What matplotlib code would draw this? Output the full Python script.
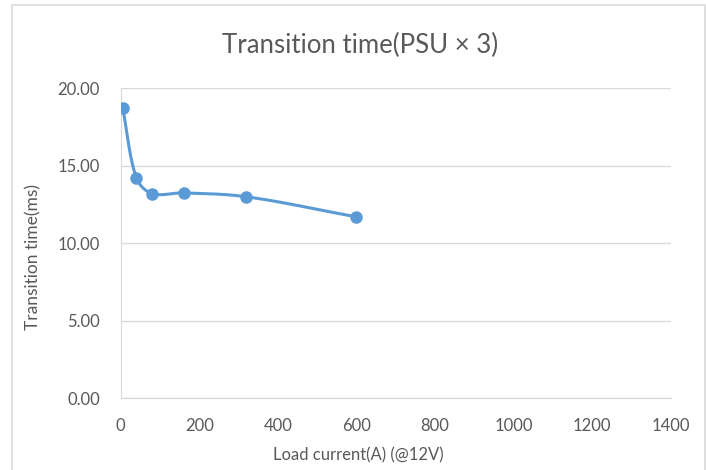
import matplotlib
matplotlib.use("Agg")
import matplotlib.pyplot as plt
import numpy as np
from matplotlib.patches import Rectangle

load_current = [5, 40, 80, 160, 320, 600]
transition_ms = [18.75, 14.2, 13.2, 13.25, 13.0, 11.7]

x_ticks = [0, 200, 400, 600, 800, 1000, 1200, 1400]
y_ticks = [0, 5, 10, 15, 20]

blue = "#5B9BD5"
txt = "#595959"
grid = "#D9D9D9"

plt.rcParams['font.family'] = ['Lato', 'DejaVu Sans']


def smooth(xs, ys, sx=1.0, sy=1.0, n=40):
    # Excel-like smoothed line: bezier whose tangents are scaled by segment lengths
    pts = np.column_stack([np.asarray(xs, float) * sx, np.asarray(ys, float) * sy])
    P = np.vstack([pts[0], pts, pts[-1]])
    ox, oy = [], []
    for i in range(1, len(P) - 2):
        p0, p1, p2, p3 = P[i - 1], P[i], P[i + 1], P[i + 2]
        d01 = np.hypot(*(p1 - p0))
        d12 = np.hypot(*(p2 - p1))
        d23 = np.hypot(*(p3 - p2))
        m1 = (p2 - p0) / max(d01 + d12, 1e-9)
        m2 = (p3 - p1) / max(d12 + d23, 1e-9)
        c1 = p1 + m1 * d12 / 3
        c2 = p2 - m2 * d12 / 3
        t = np.linspace(0, 1, n)[:, None]
        seg = (1 - t) ** 3 * p1 + 3 * (1 - t) ** 2 * t * c1 + 3 * (1 - t) * t ** 2 * c2 + t ** 3 * p2
        ox.extend(seg[:, 0] / sx)
        oy.extend(seg[:, 1] / sy)
    return ox, oy


fig = plt.figure(figsize=(7.06, 4.70), dpi=100)
ax = fig.add_axes([0.171, 0.153, 0.779, 0.659])

cx, cy = smooth(load_current, transition_ms, sx=550 / 1400, sy=310 / 20)
ax.plot(cx, cy, color=blue, lw=2.2, zorder=3, solid_capstyle="round")
ax.plot(load_current, transition_ms, "o", color=blue, ms=8, zorder=4)

ax.set_xlim(0, 1400)
ax.set_ylim(0, 20)
ax.set_xticks(x_ticks)
ax.set_yticks(y_ticks)
ax.set_yticklabels(["%.2f" % v for v in y_ticks])
ax.tick_params(colors=txt, labelsize=12, length=0)
ax.tick_params(axis="x", pad=14)
ax.tick_params(axis="y", pad=15)
ax.grid(axis="y", color=grid, lw=1)
ax.set_axisbelow(True)
for s in ["top", "right"]:
    ax.spines[s].set_visible(False)
ax.spines["bottom"].set_color(grid)
ax.spines["left"].set_color(grid)

fig.text(360 / 706, 1 - 45 / 470, "Transition time(PSU × 3)", fontsize=18.5,
         color=txt, ha="center", va="center")
fig.text(358 / 706, 1 - 455 / 470, "Load current(A) (@12V)", fontsize=12,
         color=txt, ha="center", va="center")
fig.text(33 / 706, 1 - 257 / 470, "Transition time(ms)", fontsize=12.5,
         color=txt, ha="center", va="center", rotation=90)

fig.patches.append(Rectangle((12 / 706, -0.1), 693 / 706, 1.1 - 5 / 470,
                             transform=fig.transFigure, fill=False,
                             edgecolor="#D9D9D9", lw=1.2))

fig.savefig("out.png", dpi=100)
